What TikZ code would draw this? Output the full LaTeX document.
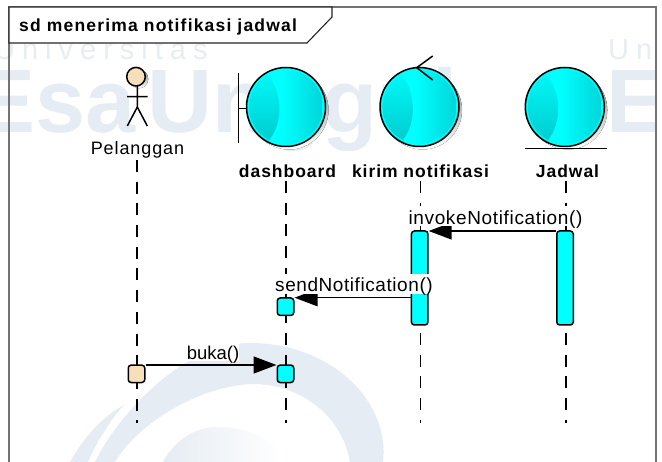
\documentclass[tikz,border=0pt]{standalone}
\usepackage{fontspec}
\setmainfont{Liberation Sans}
\usetikzlibrary{arrows.meta}
\definecolor{wm}{HTML}{E6ECF3}
\definecolor{wmb}{HTML}{E8EDF4}
\definecolor{cy}{HTML}{00FFFF}
\definecolor{cyd}{HTML}{00D6DA}
\definecolor{skin}{HTML}{F8DFBC}
\definecolor{shade}{HTML}{C3CADD}
\tikzset{x=1pt,y=-1pt,
 lifeline/.style={line width=1.6pt,dash pattern=on 12pt off 9.7pt},
 act/.style={draw=black,line width=1.5pt,rounded corners=3pt,fill=cy,inner sep=0pt,minimum width=16.5pt},
 msg/.style={line width=1.5pt,-{Triangle[length=23pt,width=17pt]}},
 stroke/.style={line width=1.5pt},
 msgtxt/.style={anchor=base,fill=white,inner sep=0pt,text height=18pt,text depth=2pt,text=black},
 objlbl/.style={anchor=base,inner sep=0pt,text=black,font=\bfseries\fontsize{17.5}{20}\selectfont\addfontfeatures{LetterSpace=5.5}}}
\newcommand{\ball}[2]{%
 \begin{scope}[shift={(#1,#2)}]
 \fill[shade] (3,3) circle (39.5);
 \fill[cy] (0,0) circle (39.5);
 \begin{scope}
  \clip (0,0) circle (39);
  \shade[left color=cy,right color=cyd] (-4,-45) rectangle (36,45);
  \shade[top color=cy,bottom color=cyd!92!black] (-19,-33) .. controls (-3,-15) and (-3,15) .. (-16,32) -- (-16,45) -- (-45,45) -- (-45,-45) -- (-19,-45) -- cycle;
 \end{scope}
 \draw[cy,line width=1pt] (0,0) circle (37.6);
 \draw[stroke] (0,0) circle (39.5);
 \end{scope}}
\begin{document}
\begin{tikzpicture}
\useasboundingbox (0,0) rectangle (662,462);
\fill[white] (0,0) rectangle (662,462);
% watermark
\begin{scope}
\clip (0,0) rectangle (656,462);
\node[inner sep=0pt,anchor=base west,text=wmb,font=\fontsize{29}{32}\selectfont] (wu) at (-6,60) {U\hspace{7pt}n\hspace{7pt}i\hspace{7pt}v\hspace{7pt}e\hspace{7pt}r\hspace{7pt}s\hspace{7pt}i\hspace{7pt}t\hspace{7pt}a\hspace{7pt}s};
\node[inner sep=0pt,anchor=base west,text=wm,font=\bfseries\fontsize{90}{92}\selectfont] (we) at (-25,133) {Esa};
\node[inner sep=0pt,anchor=base west,text=wm,font=\bfseries\fontsize{90}{92}\selectfont] (wg) at (147,133) {Unggul};
\node[inner sep=0pt,anchor=base west,text=wmb,font=\fontsize{29}{32}\selectfont] (wu2) at (608,60) {U\hspace{7pt}n};
\node[inner sep=0pt,anchor=base west,text=wm,font=\bfseries\fontsize{90}{92}\selectfont] (we2) at (606,133) {E};
\end{scope}
\fill[wm] (70,462) .. controls (85,435) and (105,415) .. (124,405) .. controls (110,420) and (95,445) .. (88,462) -- cycle;
\fill[wm] (95,462) .. controls (115,420) and (180,343) .. (250,343) .. controls (330,343) and (390,400) .. (383,462) -- (350,462) .. controls (342,415) and (300,385) .. (255,384) .. controls (205,384) and (140,420) .. (115,462) -- cycle;
\shade[left color=wm,right color=white] (163,462) .. controls (175,440) and (195,427) .. (217,427) .. controls (250,427) and (275,440) .. (283,462) -- cycle;
% frame
\draw[line width=1.6pt,draw=black!55] (9,7) rectangle (656,470);
\draw[line width=1.1pt,draw=black!85,fill=white] (9,7) -- (332,7) -- (332,17) -- (307,43) -- (9,43) -- cycle;
\node[anchor=base west,inner sep=0pt,font=\bfseries\fontsize{17.5}{20}\selectfont\addfontfeatures{LetterSpace=6.8}] (title) at (19,32) {sd menerima notifikasi jadwal};
% lifelines
\coordinate (p1) at (137,160); \coordinate (p2) at (137,423);
\coordinate (d1) at (286,181); \coordinate (d2) at (286,423);
\coordinate (k1) at (420.5,181); \coordinate (k2) at (420.5,423);
\coordinate (j1) at (566,181); \coordinate (j2) at (566,423);
\draw[lifeline] (p1)--(p2);
\draw[lifeline] (d1)--(d2);
\draw[lifeline] (k1)--(k2);
\draw[lifeline] (j1)--(j2);
% actor
\fill[shade] (139,79) circle (9.3);
\draw[stroke,fill=skin] (136,76.7) circle (9.3);
\draw[stroke] (137.3,86)--(137.3,107) (127,96.7)--(147.5,96.7) (127.3,126)--(137.3,107)--(147.3,126);
\node[anchor=base,inner sep=0pt,font=\fontsize{18}{20}\selectfont\addfontfeatures{LetterSpace=5}] (pel) at (137.5,155) {Pelanggan};
% boundary
\ball{286}{107}
\draw[stroke] (238.7,73.3)--(238.7,143.3) (238.7,108.3)--(246.7,108.3);
\node[objlbl] (dash) at (287.5,178) {dashboard};
% control
\ball{419.5}{107}
\draw[stroke] (432.7,56)--(416.7,67.7)--(432.7,80);
\node[objlbl] (kirim) at (420.5,178) {kirim notifikasi};
% entity
\ball{564.8}{107}
\draw[stroke] (525,148.3)--(606.7,148.3);
\node[objlbl] (jadwal) at (567.5,178) {Jadwal};
% activations
\node[act,minimum height=94pt] (ak) at (419.7,278) {};
\node[act,minimum height=94pt] (aj) at (565,278) {};
\node[act,minimum height=17.5pt] (ad1) at (285.5,306.7) {};
\node[act,minimum height=17.5pt] (ad2) at (285.5,373.8) {};
\node[act,fill=skin,minimum height=17.5pt] (ap) at (136.5,373.8) {};
% messages
\draw[msg] (aj.west |- 0,231) -- (ak.east |- 0,231);
\draw[msg] (ak.west |- 0,297.7) -- (ad1.east |- 0,297.7);
\draw[msg] (ap.east |- 0,365) -- (ad2.west |- 0,365);
% message labels
\node[msgtxt,font=\fontsize{19}{20}\selectfont\addfontfeatures{LetterSpace=3.4}] (l1) at (495.5,224.5) {invokeNotification()};
\node[msgtxt,font=\fontsize{19}{20}\selectfont\addfontfeatures{LetterSpace=3}] (l2) at (354,292) {sendNotification()};
\node[msgtxt,font=\fontsize{18.5}{20}\selectfont] (l3) at (213,359.5) {buka()};
\end{tikzpicture}
\end{document}
